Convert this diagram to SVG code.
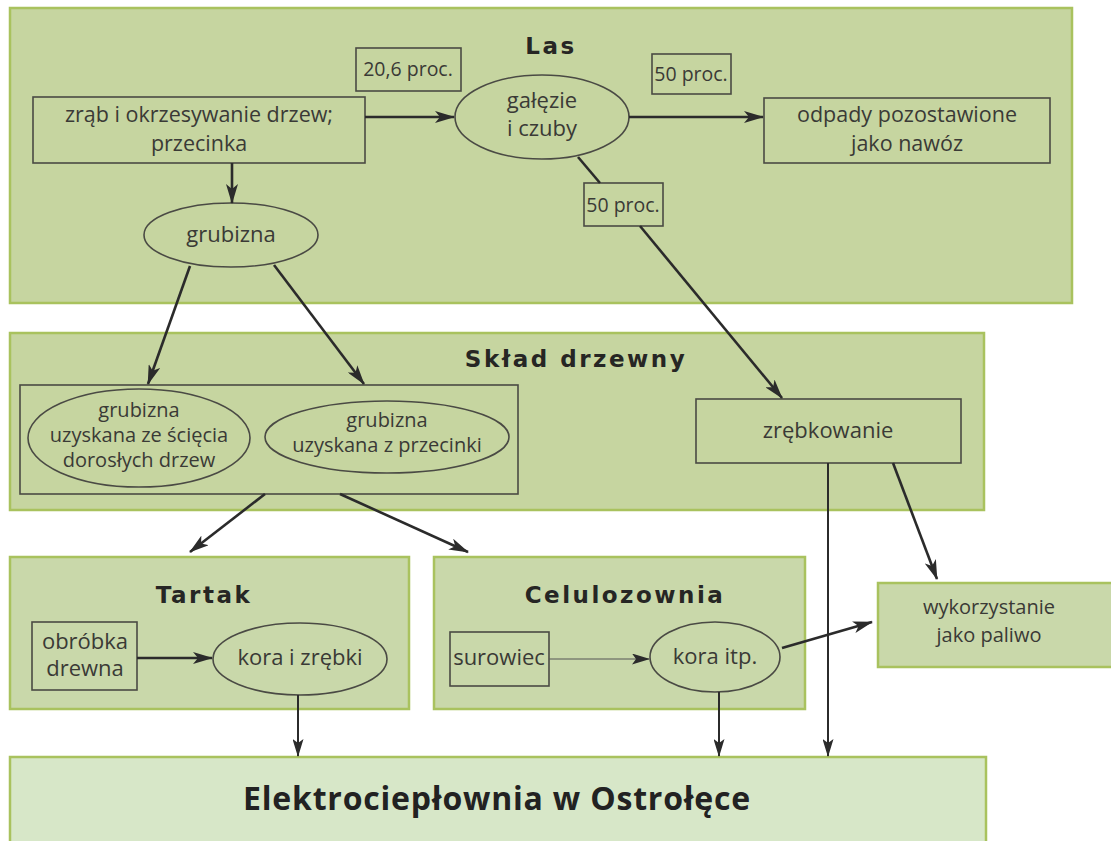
<svg xmlns="http://www.w3.org/2000/svg" width="1111" height="841" viewBox="0 0 1111 841">
<defs>
<marker id="ah" viewBox="0 0 20 12" refX="19" refY="6" markerWidth="20" markerHeight="12" markerUnits="userSpaceOnUse" orient="auto">
<path d="M0,0 L20,6 L0,12 L5,6 Z" fill="#2b2b2b"/>
</marker>
<marker id="ahs" viewBox="0 0 18 11" refX="17" refY="5.5" markerWidth="18" markerHeight="11" markerUnits="userSpaceOnUse" orient="auto">
<path d="M0,0 L18,5.5 L0,11 L4,5.5 Z" fill="#2b2b2b"/>
</marker>
</defs>
<style>
.panel{fill:#c6d5a0;stroke:#a9c25e;stroke-width:2.5}
.panel2{fill:#c9d8aa;stroke:#a9c25e;stroke-width:2.5}
.panel3{fill:#d7e7c8;stroke:#a9c25e;stroke-width:2.5}
.box{fill:none;stroke:#4a4a44;stroke-width:1.6}
.ell{fill:none;stroke:#4a4a44;stroke-width:1.6}
.t{font-family:"Open Sans","Noto Sans",sans-serif;font-size:22px;fill:#3a3a36;text-anchor:middle}
.t2{font-family:"Open Sans","Noto Sans",sans-serif;font-size:21.5px;fill:#3a3a36;text-anchor:middle}
.tm{font-family:"Open Sans","Noto Sans",sans-serif;font-size:20px;fill:#3a3a36;text-anchor:middle}
.ts{font-family:"Open Sans","Noto Sans",sans-serif;font-size:19.5px;fill:#3a3a36;text-anchor:middle}
.h{font-family:"DejaVu Sans",sans-serif;font-weight:bold;font-size:23px;fill:#262624;text-anchor:middle;letter-spacing:2.5px}
.hb{font-family:"Open Sans","Noto Sans",sans-serif;font-weight:bold;font-size:32px;fill:#222;text-anchor:middle;letter-spacing:0.8px}
.c{fill:none;stroke:#2b2b2b;stroke-width:2.6}
.cm{fill:none;stroke:#2b2b2b;stroke-width:2}
.cf{fill:none;stroke:#555;stroke-width:1}
</style>
<g id="las">
<rect class="panel" x="10" y="8" width="1062" height="295"/>
<text class="h" x="551" y="54" font-size="29">Las</text>
</g>
<g id="sklad">
<rect class="panel" x="10" y="333" width="974" height="177"/>
<text class="h" x="576" y="367">Skład drzewny</text>
</g>
<g id="tartak">
<rect class="panel2" x="10" y="557" width="399" height="152"/>
<text class="h" x="204" y="603" font-size="24">Tartak</text>
</g>
<g id="celulozownia">
<rect class="panel2" x="434" y="557" width="371" height="152"/>
<text class="h" x="625" y="603">Celulozownia</text>
</g>
<g id="wykorzystanie">
<rect class="panel2" x="878" y="583" width="245" height="84"/>
<text class="tm" x="989" y="614">wykorzystanie</text>
<text class="tm" x="989" y="642">jako paliwo</text>
</g>
<g id="elektrocieplownia">
<rect class="panel3" x="10" y="757" width="976" height="100"/>
<text class="hb" x="497" y="810">Elektrociepłownia w Ostrołęce</text>
</g>
<g id="proc206">
<rect class="box" x="356" y="48" width="105" height="43"/>
<text class="ts" x="408" y="76">20,6 proc.</text>
</g>
<g id="zrab">
<rect class="box" x="33" y="97" width="332" height="66"/>
<text class="t2" x="199" y="122">zrąb i okrzesywanie drzew;</text>
<text class="t2" x="199" y="151">przecinka</text>
</g>
<g id="galezie">
<ellipse class="ell" cx="542" cy="117" rx="87" ry="42"/>
<text class="t" x="542" y="108">gałęzie</text>
<text class="t" x="542" y="136">i czuby</text>
</g>
<g id="proc50a">
<rect class="box" x="652" y="54" width="79" height="40"/>
<text class="ts" x="691" y="81">50 proc.</text>
</g>
<g id="odpady">
<rect class="box" x="764" y="98" width="286" height="65"/>
<text class="t2" x="907" y="122">odpady pozostawione</text>
<text class="t2" x="907" y="151">jako nawóz</text>
</g>
<g id="proc50b">
<rect class="box" x="584" y="183" width="79" height="43"/>
<text class="ts" x="623" y="212">50 proc.</text>
</g>
<g id="grubizna">
<ellipse class="ell" cx="231" cy="235" rx="87" ry="32"/>
<text class="t" x="231" y="242">grubizna</text>
</g>
<g id="grubizna-grupa">
<rect class="box" x="20" y="385" width="498" height="109"/>
</g>
<g id="grubizna-sciecie">
<ellipse class="ell" cx="139" cy="438" rx="111" ry="49"/>
<text class="tm" x="139" y="417">grubizna</text>
<text class="tm" x="139" y="442">uzyskana ze ścięcia</text>
<text class="tm" x="139" y="467">dorosłych drzew</text>
</g>
<g id="grubizna-przecinka">
<ellipse class="ell" cx="387" cy="437" rx="122" ry="36"/>
<text class="tm" x="387" y="427">grubizna</text>
<text class="tm" x="387" y="452">uzyskana z przecinki</text>
</g>
<g id="zrebkowanie">
<rect class="box" x="696" y="399" width="265" height="64"/>
<text class="t" x="828" y="438">zrębkowanie</text>
</g>
<g id="obrobka">
<rect class="box" x="32" y="622" width="105" height="68"/>
<text class="t" x="85" y="649">obróbka</text>
<text class="t" x="85" y="676">drewna</text>
</g>
<g id="kora-zrebki">
<ellipse class="ell" cx="300" cy="659" rx="87" ry="36"/>
<text class="t" x="300" y="665">kora i zrębki</text>
</g>
<g id="surowiec">
<rect class="box" x="450" y="632" width="99" height="54"/>
<text class="t" x="499" y="665">surowiec</text>
</g>
<g id="kora-itp">
<ellipse class="ell" cx="715" cy="657" rx="65" ry="35"/>
<text class="t" x="715" y="664">kora itp.</text>
</g>
<g id="connectors">
<line class="c" x1="365" y1="117" x2="454" y2="117" marker-end="url(#ah)"/>
<line class="c" x1="629" y1="117" x2="763" y2="117" marker-end="url(#ah)"/>
<line class="c" x1="232" y1="163" x2="232" y2="203" marker-end="url(#ah)"/>
<line class="c" x1="578" y1="157" x2="600" y2="183"/>
<line class="c" x1="640" y1="226" x2="782" y2="398" marker-end="url(#ah)"/>
<line class="c" x1="190" y1="266" x2="148" y2="384" marker-end="url(#ah)"/>
<line class="c" x1="274" y1="265" x2="364" y2="384" marker-end="url(#ah)"/>
<line class="c" x1="265" y1="494" x2="190" y2="552" marker-end="url(#ah)"/>
<line class="c" x1="340" y1="494" x2="468" y2="552" marker-end="url(#ah)"/>
<line class="cm" x1="828" y1="463" x2="828" y2="756" marker-end="url(#ahs)"/>
<line class="c" x1="893" y1="463" x2="937" y2="579" marker-end="url(#ah)"/>
<line class="c" x1="137" y1="658" x2="212" y2="658" marker-end="url(#ah)"/>
<line class="cm" x1="298" y1="695" x2="298" y2="756" marker-end="url(#ahs)"/>
<line class="cf" x1="549" y1="659" x2="649" y2="659" marker-end="url(#ahs)"/>
<line class="cm" x1="719" y1="692" x2="719" y2="756" marker-end="url(#ahs)"/>
<line class="c" x1="782" y1="648" x2="872" y2="622" marker-end="url(#ah)"/>
</g>
</svg>
